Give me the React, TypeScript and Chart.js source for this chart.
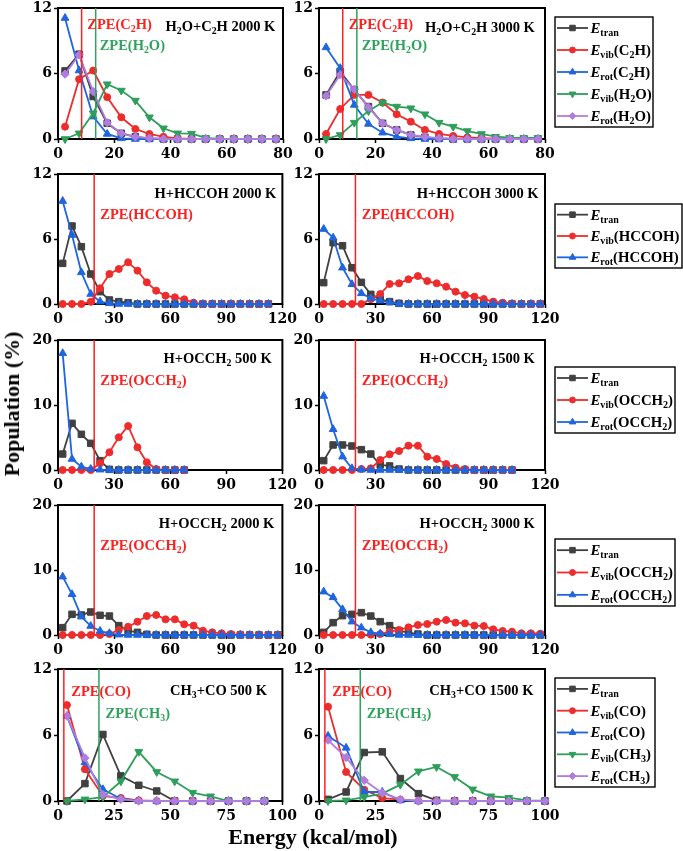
import React, { useEffect, useRef } from 'react';
import { Chart, registerables } from 'chart.js';
import { drawPoint } from 'chart.js/helpers';

Chart.register(...registerables);

// ---------------- energy bins (kcal/mol) ----------------
const E5_80 = [2.5, 7.5, 12.5, 17.5, 22.5, 27.5, 32.5, 37.5, 42.5, 47.5, 52.5, 57.5, 62.5, 67.5, 72.5, 77.5];
const E5_67 = [2.5, 7.5, 12.5, 17.5, 22.5, 27.5, 32.5, 37.5, 42.5, 47.5, 52.5, 57.5, 62.5, 67.5];
const E5_102 = [2.5, 7.5, 12.5, 17.5, 22.5, 27.5, 32.5, 37.5, 42.5, 47.5, 52.5, 57.5, 62.5, 67.5, 72.5, 77.5, 82.5, 87.5, 92.5, 97.5, 102.5];
const E5_112 = [2.5, 7.5, 12.5, 17.5, 22.5, 27.5, 32.5, 37.5, 42.5, 47.5, 52.5, 57.5, 62.5, 67.5, 72.5, 77.5, 82.5, 87.5, 92.5, 97.5, 102.5, 107.5, 112.5];
const E5_117 = [2.5, 7.5, 12.5, 17.5, 22.5, 27.5, 32.5, 37.5, 42.5, 47.5, 52.5, 57.5, 62.5, 67.5, 72.5, 77.5, 82.5, 87.5, 92.5, 97.5, 102.5, 107.5, 112.5, 117.5];
const E8_92 = [4, 12, 20, 28, 36, 44, 52, 60, 68, 76, 84, 92];
const E8_100 = [4, 12, 20, 28, 36, 44, 52, 60, 68, 76, 84, 92, 100];

// ---------------- tick labels ----------------
const X_TICKS_80 = [0, 20, 40, 60, 80];
const X_TICKS_120 = [0, 30, 60, 90, 120];
const X_TICKS_100 = [0, 25, 50, 75, 100];
const Y_TICKS_12 = [0, 6, 12];
const Y_TICKS_20 = [0, 10, 20];

// ---------------- H2O + C2H ----------------
const C2H_2000_tran = [6.24, 7.77, 3.89, 1.44, 0.52, 0.2, 0.05, 0, 0, 0, 0, 0, 0, 0, 0, 0];
const C2H_2000_vibC2H = [1.13, 5.48, 6.27, 3.83, 1.99, 0.92, 0.46, 0.2, 0.05, 0, 0, 0, 0, 0, 0, 0];
const C2H_2000_rotC2H = [11.08, 6.27, 2.05, 0.46, 0.06, 0, 0, 0, 0, 0, 0, 0, 0, 0, 0, 0];
const C2H_2000_vibH2O = [0, 0.52, 2.36, 5.02, 4.44, 3.52, 1.99, 0.98, 0.52, 0.49, 0.1, 0, 0, 0, 0, 0];
const C2H_2000_rotH2O = [5.94, 7.71, 4.35, 1.5, 0.5, 0.2, 0.08, 0, 0, 0, 0, 0, 0, 0, 0, 0];

const C2H_3000_tran = [4.04, 6.18, 4.5, 2.97, 1.44, 0.83, 0.37, 0.15, 0.05, 0, 0, 0, 0, 0, 0, 0];
const C2H_3000_vibC2H = [0.46, 2.75, 4.04, 4.04, 3.34, 2.27, 1.59, 0.83, 0.46, 0.28, 0.15, 0.08, 0.03, 0, 0, 0];
const C2H_3000_rotC2H = [8.39, 6.49, 3.12, 1.38, 0.58, 0.21, 0.06, 0, 0, 0, 0, 0, 0, 0, 0, 0];
const C2H_3000_vibH2O = [0, 0.37, 1.5, 2.57, 3.34, 2.97, 2.82, 2.27, 1.5, 1.13, 0.73, 0.46, 0.21, 0.12, 0.09, 0.09];
const C2H_3000_rotH2O = [3.95, 5.88, 4.56, 2.9, 1.44, 0.83, 0.37, 0.2, 0.08, 0, 0, 0, 0, 0, 0, 0];

// ---------------- H + HCCOH ----------------
const HCCOH_2000_tran = [3.75, 7.2, 5.29, 2.77, 1.14, 0.37, 0.22, 0.12, 0, 0, 0, 0, 0, 0, 0, 0, 0, 0, 0, 0, 0, 0, 0];
const HCCOH_2000_vib = [0, 0, 0, 0.2, 1.45, 2.77, 3.23, 3.85, 3.08, 2.0, 1.23, 0.77, 0.62, 0.43, 0.12, 0, 0, 0, 0, 0, 0, 0, 0];
const HCCOH_2000_rot = [9.5, 6.37, 2.92, 0.92, 0.22, 0.06, 0, 0, 0, 0, 0, 0, 0, 0, 0, 0, 0, 0, 0, 0, 0, 0, 0];

const HCCOH_3000_tran = [1.97, 5.66, 5.38, 3.35, 2.0, 0.89, 0.43, 0.22, 0.06, 0, 0, 0, 0, 0, 0, 0, 0, 0, 0, 0, 0, 0, 0, 0];
const HCCOH_3000_vib = [0, 0, 0, 0, 0, 0.45, 0.92, 1.85, 1.91, 2.28, 2.58, 2.12, 1.91, 1.6, 1.14, 0.83, 0.68, 0.46, 0.22, 0.12, 0.05, 0, 0, 0];
const HCCOH_3000_rot = [6.92, 6.12, 3.35, 1.82, 0.98, 0.52, 0.31, 0.15, 0, 0, 0, 0, 0, 0, 0, 0, 0, 0, 0, 0, 0, 0, 0, 0];

// ---------------- H + OCCH2 ----------------
const OCCH2_500_tran = [2.46, 7.18, 5.49, 4.1, 1.44, 0.1, 0, 0, 0, 0, 0, 0, 0, 0];
const OCCH2_500_vib = [0, 0, 0, 0, 1.03, 2.72, 5.03, 6.77, 3.49, 1.18, 0.15, 0, 0, 0];
const OCCH2_500_rot = [17.95, 1.69, 0.51, 0.15, 0.05, 0, 0, 0, 0, 0, 0, 0, 0, 0];

const OCCH2_1500_tran = [1.44, 3.85, 3.85, 3.69, 3.13, 2.46, 0.77, 0.62, 0.15, 0, 0, 0, 0, 0, 0, 0, 0, 0, 0, 0, 0];
const OCCH2_1500_vib = [0, 0, 0, 0, 0.15, 0.26, 1.54, 2.41, 2.92, 3.74, 3.74, 2.05, 1.69, 0.92, 0.36, 0.15, 0, 0, 0, 0, 0];
const OCCH2_1500_rot = [11.38, 6.26, 2.05, 0.26, 0.05, 0, 0, 0, 0, 0, 0, 0, 0, 0, 0, 0, 0, 0, 0, 0, 0];

const OCCH2_2000_tran = [1.13, 3.18, 3.08, 3.54, 3.03, 2.92, 1.44, 0.67, 0.41, 0.1, 0, 0, 0, 0, 0, 0, 0, 0, 0, 0, 0, 0, 0, 0];
const OCCH2_2000_vib = [0, 0, 0, 0, 0, 0.15, 0.77, 1.28, 2.05, 2.92, 3.08, 2.41, 2.41, 1.64, 1.44, 0.67, 0.41, 0.26, 0.15, 0.1, 0, 0, 0, 0];
const OCCH2_2000_rot = [8.97, 6.26, 2.82, 1.38, 0.62, 0.26, 0.05, 0, 0, 0, 0, 0, 0, 0, 0, 0, 0, 0, 0, 0, 0, 0, 0, 0];

const OCCH2_3000_tran = [0.41, 1.9, 2.97, 3.18, 3.44, 2.92, 2.05, 1.44, 0.67, 0.36, 0.15, 0, 0, 0, 0, 0, 0, 0, 0, 0, 0, 0, 0, 0];
const OCCH2_3000_vib = [0, 0, 0, 0, 0, 0.05, 0.15, 0.51, 0.77, 1.18, 1.54, 1.69, 2.05, 2.31, 1.9, 1.79, 1.44, 1.38, 0.87, 0.62, 0.51, 0.26, 0.26, 0.2];
const OCCH2_3000_rot = [6.67, 5.79, 3.95, 2.05, 1.13, 0.41, 0.2, 0.1, 0, 0, 0, 0, 0, 0, 0, 0, 0, 0, 0, 0, 0, 0, 0, 0];

// ---------------- CH3 + CO ----------------
const CO_500_tran = [0, 1.58, 6.05, 2.28, 1.43, 0.91, 0, 0, 0, 0, 0, 0];
const CO_500_vibCO = [8.72, 2.89, 0.46, 0.27, 0.06, 0, 0, 0, 0, 0, 0, 0];
const CO_500_rotCO = [7.72, 3.5, 1.06, 0.21, 0, 0, 0, 0, 0, 0, 0, 0];
const CO_500_vibCH3 = [0, 0.15, 0.36, 1.79, 4.47, 2.64, 1.79, 0.76, 0.43, 0, 0, 0];
const CO_500_rotCH3 = [7.72, 3.92, 0.58, 0.15, 0, 0, 0, 0, 0, 0, 0, 0];

const CO_1500_tran = [0.15, 0.82, 4.41, 4.47, 2.04, 0.67, 0.06, 0, 0, 0, 0, 0, 0];
const CO_1500_vibCO = [8.57, 2.64, 1.03, 0.27, 0.12, 0, 0, 0, 0, 0, 0, 0, 0];
const CO_1500_rotCO = [5.92, 4.83, 0.82, 0.82, 0.05, 0, 0, 0, 0, 0, 0, 0, 0];
const CO_1500_vibCH3 = [0, 0.06, 0.36, 0.67, 1.49, 2.7, 3.1, 2.19, 1.06, 0.43, 0.3, 0.06, 0.03];
const CO_1500_rotCH3 = [5.53, 3.95, 1.88, 0.73, 0.15, 0, 0, 0, 0, 0, 0, 0, 0];

// ---------------- zero-point energies (kcal/mol) ----------------
const ZPE_C2H = 8.4;
const ZPE_H2O = 13.4;
const ZPE_HCCOH = 19.35;
const ZPE_OCCH2 = 19.35;
const ZPE_CO = 2.6;
const ZPE_CH3 = 18.25;

// ---------------- styles ----------------
const STYLE: Record<string, { color: string; point: string; rot: number; r: number }> = {
  tran: { color: '#404040', point: 'rect', rot: 0, r: 4.6 },
  vib: { color: '#ee2c2c', point: 'circle', rot: 0, r: 3.5 },
  rot: { color: '#1f65df', point: 'triangle', rot: 0, r: 4.5 },
  vib2: { color: '#2e9e5b', point: 'triangle', rot: 180, r: 4.5 },
  rot2: { color: '#b07ddf', point: 'rectRot', rot: 0, r: 4.2 },
};
const ZRED = '#ff1f1f';
const ZGREEN = '#2ea35c';

const GEOM = [
  { canvasLeft: 0, width: 300, YW: 58, R: 283 },
  { canvasLeft: 290, width: 393, YW: 29, R: 545 },
];
const ROWS = [
  { T: 8, B: 139 },
  { T: 174, B: 304 },
  { T: 340, B: 470 },
  { T: 505, B: 635 },
  { T: 669, B: 801 },
];
const PAD_TOP = 12;
const XH = 24;
const PAD_BOTTOM = 4;

interface Series { key: string; label: string; data: number[] }
interface PanelCfg {
  col: number; row: number;
  xs: number[]; xTicks: number[]; yTicks: number[];
  series: Series[];
  zpe: { x: number; color: string }[];
  notes: { text: string; x: number; y: number; color: string }[];
  legend?: { top: number; bottom: number; right: number };
}

const L_TRAN = '*E*_{tran}';

const PANELS: PanelCfg[] = [
  {
    col: 0, row: 0, xs: E5_80, xTicks: X_TICKS_80, yTicks: Y_TICKS_12,
    series: [
      { key: 'tran', label: L_TRAN, data: C2H_2000_tran },
      { key: 'vib', label: '*E*_{vib}(C_2H)', data: C2H_2000_vibC2H },
      { key: 'rot', label: '*E*_{rot}(C_2H)', data: C2H_2000_rotC2H },
      { key: 'vib2', label: '*E*_{vib}(H_2O)', data: C2H_2000_vibH2O },
      { key: 'rot2', label: '*E*_{rot}(H_2O)', data: C2H_2000_rotH2O },
    ],
    zpe: [{ x: ZPE_C2H, color: ZRED }, { x: ZPE_H2O, color: ZGREEN }],
    notes: [
      { text: 'ZPE(C_2H)', x: 10.4, y: 10.5, color: ZRED },
      { text: 'H_2O+C_2H 2000 K', x: 38.2, y: 10.3, color: '#000' },
      { text: 'ZPE(H_2O)', x: 14.8, y: 8.6, color: ZGREEN },
    ],
  },
  {
    col: 1, row: 0, xs: E5_80, xTicks: X_TICKS_80, yTicks: Y_TICKS_12,
    series: [
      { key: 'tran', label: L_TRAN, data: C2H_3000_tran },
      { key: 'vib', label: '*E*_{vib}(C_2H)', data: C2H_3000_vibC2H },
      { key: 'rot', label: '*E*_{rot}(C_2H)', data: C2H_3000_rotC2H },
      { key: 'vib2', label: '*E*_{vib}(H_2O)', data: C2H_3000_vibH2O },
      { key: 'rot2', label: '*E*_{rot}(H_2O)', data: C2H_3000_rotH2O },
    ],
    zpe: [{ x: ZPE_C2H, color: ZRED }, { x: ZPE_H2O, color: ZGREEN }],
    notes: [
      { text: 'ZPE(C_2H)', x: 10.5, y: 10.5, color: ZRED },
      { text: 'H_2O+C_2H 3000 K', x: 37.5, y: 10.2, color: '#000' },
      { text: 'ZPE(H_2O)', x: 15.1, y: 8.6, color: ZGREEN },
    ],
    legend: { top: 17, bottom: 127, right: 653 },
  },
  {
    col: 0, row: 1, xs: E5_112, xTicks: X_TICKS_120, yTicks: Y_TICKS_12,
    series: [
      { key: 'tran', label: L_TRAN, data: HCCOH_2000_tran },
      { key: 'vib', label: '*E*_{vib}(HCCOH)', data: HCCOH_2000_vib },
      { key: 'rot', label: '*E*_{rot}(HCCOH)', data: HCCOH_2000_rot },
    ],
    zpe: [{ x: ZPE_HCCOH, color: ZRED }],
    notes: [
      { text: 'H+HCCOH 2000 K', x: 51.6, y: 10.2, color: '#000' },
      { text: 'ZPE(HCCOH)', x: 22.6, y: 8.3, color: ZRED },
    ],
  },
  {
    col: 1, row: 1, xs: E5_117, xTicks: X_TICKS_120, yTicks: Y_TICKS_12,
    series: [
      { key: 'tran', label: L_TRAN, data: HCCOH_3000_tran },
      { key: 'vib', label: '*E*_{vib}(HCCOH)', data: HCCOH_3000_vib },
      { key: 'rot', label: '*E*_{rot}(HCCOH)', data: HCCOH_3000_rot },
    ],
    zpe: [{ x: ZPE_HCCOH, color: ZRED }],
    notes: [
      { text: 'H+HCCOH 3000 K', x: 51.9, y: 10.2, color: '#000' },
      { text: 'ZPE(HCCOH)', x: 22.7, y: 8.3, color: ZRED },
    ],
    legend: { top: 204, bottom: 268, right: 682 },
  },
  {
    col: 0, row: 2, xs: E5_67, xTicks: X_TICKS_120, yTicks: Y_TICKS_20,
    series: [
      { key: 'tran', label: L_TRAN, data: OCCH2_500_tran },
      { key: 'vib', label: '*E*_{vib}(OCCH_2)', data: OCCH2_500_vib },
      { key: 'rot', label: '*E*_{rot}(OCCH_2)', data: OCCH2_500_rot },
    ],
    zpe: [{ x: ZPE_OCCH2, color: ZRED }],
    notes: [
      { text: 'H+OCCH_2 500 K', x: 56.4, y: 17.2, color: '#000' },
      { text: 'ZPE(OCCH_2)', x: 22.6, y: 13.85, color: ZRED },
    ],
  },
  {
    col: 1, row: 2, xs: E5_102, xTicks: X_TICKS_120, yTicks: Y_TICKS_20,
    series: [
      { key: 'tran', label: L_TRAN, data: OCCH2_1500_tran },
      { key: 'vib', label: '*E*_{vib}(OCCH_2)', data: OCCH2_1500_vib },
      { key: 'rot', label: '*E*_{rot}(OCCH_2)', data: OCCH2_1500_rot },
    ],
    zpe: [{ x: ZPE_OCCH2, color: ZRED }],
    notes: [
      { text: 'H+OCCH_2 1500 K', x: 53.3, y: 17.2, color: '#000' },
      { text: 'ZPE(OCCH_2)', x: 22.7, y: 13.85, color: ZRED },
    ],
    legend: { top: 367, bottom: 433, right: 675 },
  },
  {
    col: 0, row: 3, xs: E5_117, xTicks: X_TICKS_120, yTicks: Y_TICKS_20,
    series: [
      { key: 'tran', label: L_TRAN, data: OCCH2_2000_tran },
      { key: 'vib', label: '*E*_{vib}(OCCH_2)', data: OCCH2_2000_vib },
      { key: 'rot', label: '*E*_{rot}(OCCH_2)', data: OCCH2_2000_rot },
    ],
    zpe: [{ x: ZPE_OCCH2, color: ZRED }],
    notes: [
      { text: 'H+OCCH_2 2000 K', x: 53.9, y: 17.2, color: '#000' },
      { text: 'ZPE(OCCH_2)', x: 22.6, y: 13.85, color: ZRED },
    ],
  },
  {
    col: 1, row: 3, xs: E5_117, xTicks: X_TICKS_120, yTicks: Y_TICKS_20,
    series: [
      { key: 'tran', label: L_TRAN, data: OCCH2_3000_tran },
      { key: 'vib', label: '*E*_{vib}(OCCH_2)', data: OCCH2_3000_vib },
      { key: 'rot', label: '*E*_{rot}(OCCH_2)', data: OCCH2_3000_rot },
    ],
    zpe: [{ x: ZPE_OCCH2, color: ZRED }],
    notes: [
      { text: 'H+OCCH_2 3000 K', x: 53.3, y: 17.2, color: '#000' },
      { text: 'ZPE(OCCH_2)', x: 22.7, y: 13.85, color: ZRED },
    ],
    legend: { top: 539, bottom: 606, right: 675 },
  },
  {
    col: 0, row: 4, xs: E8_92, xTicks: X_TICKS_100, yTicks: Y_TICKS_12,
    series: [
      { key: 'tran', label: L_TRAN, data: CO_500_tran },
      { key: 'vib', label: '*E*_{vib}(CO)', data: CO_500_vibCO },
      { key: 'rot', label: '*E*_{rot}(CO)', data: CO_500_rotCO },
      { key: 'vib2', label: '*E*_{vib}(CH_3)', data: CO_500_vibCH3 },
      { key: 'rot2', label: '*E*_{rot}(CH_3)', data: CO_500_rotCH3 },
    ],
    zpe: [{ x: ZPE_CO, color: ZRED }, { x: ZPE_CH3, color: ZGREEN }],
    notes: [
      { text: 'ZPE(CO)', x: 5.9, y: 10.0, color: ZRED },
      { text: 'CH_3+CO 500 K', x: 49.9, y: 10.1, color: '#000' },
      { text: 'ZPE(CH_3)', x: 21.2, y: 8.0, color: ZGREEN },
    ],
  },
  {
    col: 1, row: 4, xs: E8_100, xTicks: X_TICKS_100, yTicks: Y_TICKS_12,
    series: [
      { key: 'tran', label: L_TRAN, data: CO_1500_tran },
      { key: 'vib', label: '*E*_{vib}(CO)', data: CO_1500_vibCO },
      { key: 'rot', label: '*E*_{rot}(CO)', data: CO_1500_rotCO },
      { key: 'vib2', label: '*E*_{vib}(CH_3)', data: CO_1500_vibCH3 },
      { key: 'rot2', label: '*E*_{rot}(CH_3)', data: CO_1500_rotCH3 },
    ],
    zpe: [{ x: ZPE_CO, color: ZRED }, { x: ZPE_CH3, color: ZGREEN }],
    notes: [
      { text: 'ZPE(CO)', x: 5.9, y: 10.0, color: ZRED },
      { text: 'CH_3+CO 1500 K', x: 48.8, y: 10.1, color: '#000' },
      { text: 'ZPE(CH_3)', x: 21.1, y: 8.0, color: ZGREEN },
    ],
    legend: { top: 678, bottom: 787, right: 655 },
  },
];

// ---------------- rich text helpers ----------------
type Seg = { t: string; sub: boolean; it: boolean };
function parseRich(s: string): Seg[] {
  const out: Seg[] = [];
  let cur = '';
  let it = false;
  let i = 0;
  const flush = () => { if (cur) { out.push({ t: cur, sub: false, it }); cur = ''; } };
  while (i < s.length) {
    const c = s[i];
    if (c === '*') { flush(); it = !it; i++; }
    else if (c === '_') {
      flush();
      if (s[i + 1] === '{') {
        const j = s.indexOf('}', i);
        out.push({ t: s.slice(i + 2, j), sub: true, it });
        i = j + 1;
      } else {
        out.push({ t: s[i + 1], sub: true, it });
        i += 2;
      }
    } else { cur += c; i++; }
  }
  flush();
  return out;
}
const SERIF = '"Liberation Serif", "Times New Roman", serif';
function drawRich(ctx: CanvasRenderingContext2D, s: string, x: number, yMid: number, size: number, color: string, subScale = 0.68) {
  const base = yMid + size * 0.33;
  ctx.save();
  ctx.fillStyle = color;
  ctx.textBaseline = 'alphabetic';
  ctx.textAlign = 'left';
  let cx = x;
  for (const g of parseRich(s)) {
    const fs = g.sub ? size * subScale : size;
    ctx.font = `${g.it ? 'italic ' : ''}bold ${fs}px ${SERIF}`;
    ctx.fillText(g.t, cx, g.sub ? base + size * 0.2 : base);
    cx += ctx.measureText(g.t).width;
  }
  ctx.restore();
}

const TICK_FONT: any = { family: '"DejaVu Serif", serif', size: 14, weight: 'bold' };

function makeConfig(p: PanelCfg): any {
  const g = GEOM[p.col];
  const row = ROWS[p.row];
  const xmax = p.xTicks[p.xTicks.length - 1];
  const ymax = p.yTicks[p.yTicks.length - 1];
  const ox = g.canvasLeft;
  const oy = row.T - PAD_TOP;

  const datasets: any[] = p.series.map((s, i) => {
    const st = STYLE[s.key];
    return {
      label: s.label,
      data: p.xs.map((x, j) => ({ x, y: s.data[j] })),
      borderColor: st.color,
      backgroundColor: st.color,
      pointBackgroundColor: st.color,
      pointBorderColor: st.color,
      borderWidth: 1.8,
      pointStyle: st.point,
      pointRadius: st.r,
      pointRotation: st.rot,
      pointBorderWidth: 1,
      tension: 0,
      clip: false,
      order: 20 - i,
    };
  });
  p.zpe.forEach((z) => {
    datasets.push({
      label: 'ZPE',
      data: [{ x: z.x, y: 0 }, { x: z.x, y: ymax }],
      borderColor: z.color,
      borderWidth: 1.5,
      pointRadius: 0,
      clip: false,
      order: 0,
    });
  });

  const deco = {
    id: 'deco',
    beforeDatasetsDraw(chart: any) {
      const { ctx, chartArea: a } = chart;
      ctx.save();
      ctx.strokeStyle = '#000';
      ctx.lineWidth = 2;
      ctx.strokeRect(a.left, a.top, a.right - a.left, a.bottom - a.top);
      ctx.restore();
    },
    afterDraw(chart: any) {
      const ctx: CanvasRenderingContext2D = chart.ctx;
      const xs = chart.scales.x;
      const ys = chart.scales.y;
      p.notes.forEach((n) => {
        drawRich(ctx, n.text, xs.getPixelForValue(n.x), ys.getPixelForValue(n.y), 14.5, n.color, 0.68);
      });
      if (p.legend) {
        const L = p.legend;
        const bx = 555 - ox;
        const by = L.top - oy;
        const bw = L.right - 555;
        const bh = L.bottom - L.top;
        ctx.save();
        ctx.strokeStyle = '#000';
        ctx.lineWidth = 1.4;
        ctx.strokeRect(bx, by, bw, bh);
        const n = p.series.length;
        p.series.forEach((s, i) => {
          const st = STYLE[s.key];
          const cy = by + (bh * (i + 0.5)) / n;
          ctx.strokeStyle = st.color;
          ctx.lineWidth = 1.8;
          ctx.beginPath();
          ctx.moveTo(557 - ox, cy);
          ctx.lineTo(588 - ox, cy);
          ctx.stroke();
          ctx.fillStyle = st.color;
          ctx.lineWidth = 1;
          drawPoint(ctx, { pointStyle: st.point as any, radius: st.r * 0.85, rotation: st.rot, borderWidth: 1 } as any, 572.5 - ox, cy);
          drawRich(ctx, s.label, 590.5 - ox, cy, 14.8, '#000', 0.68);
        });
        ctx.restore();
      }
    },
  };

  return {
    type: 'line',
    data: { datasets },
    plugins: [deco],
    options: {
      responsive: false,
      animation: false,
      devicePixelRatio: 1,
      events: [],
      layout: { padding: { left: 0, top: PAD_TOP, bottom: PAD_BOTTOM, right: g.canvasLeft + g.width - g.R } },
      plugins: { legend: { display: false }, tooltip: { enabled: false } },
      scales: {
        x: {
          type: 'linear',
          min: 0,
          max: xmax,
          afterBuildTicks: (s: any) => { s.ticks = p.xTicks.map((v) => ({ value: v })); },
          afterFit: (s: any) => { s.height = XH; },
          ticks: { font: TICK_FONT, color: '#000', padding: 3, maxRotation: 0, autoSkip: false },
          grid: { drawOnChartArea: false, drawTicks: true, tickLength: 4, tickWidth: 1.5, tickColor: '#000' },
          border: { display: false },
        },
        y: {
          type: 'linear',
          min: 0,
          max: ymax,
          afterBuildTicks: (s: any) => { s.ticks = p.yTicks.map((v) => ({ value: v })); },
          afterFit: (s: any) => { s.width = g.YW; },
          ticks: { font: TICK_FONT, color: '#000', padding: 2, autoSkip: false },
          grid: { drawOnChartArea: false, drawTicks: true, tickLength: 4, tickWidth: 1.5, tickColor: '#000' },
          border: { display: false },
        },
      },
    },
  };
}

function Panel({ p }: { p: PanelCfg }) {
  const ref = useRef<HTMLCanvasElement>(null);
  const g = GEOM[p.col];
  const row = ROWS[p.row];
  const top = row.T - PAD_TOP;
  const height = row.B - row.T + PAD_TOP + XH + PAD_BOTTOM;
  useEffect(() => {
    const chart = new Chart(ref.current as HTMLCanvasElement, makeConfig(p));
    return () => chart.destroy();
  }, []);
  return (
    <canvas
      ref={ref}
      width={g.width}
      height={height}
      style={{ position: 'absolute', left: g.canvasLeft, top, width: g.width, height }}
    />
  );
}

export default function App() {
  return (
    <div style={{ position: 'absolute', left: 0, top: 0, width: 683, height: 851, background: '#fff', overflow: 'hidden' }}>
      {PANELS.map((p, i) => (
        <Panel key={i} p={p} />
      ))}
      <div
        style={{
          position: 'absolute', left: 12, top: 404, transform: 'translate(-50%, -50%) rotate(-90deg)',
          font: `bold 22px ${SERIF}`, lineHeight: '22px', whiteSpace: 'nowrap', color: '#000',
        }}
      >
        Population (%)
      </div>
      <div
        style={{
          position: 'absolute', left: 313, top: 837, transform: 'translate(-50%, -50%)',
          font: `bold 22px ${SERIF}`, lineHeight: '22px', whiteSpace: 'nowrap', color: '#000',
        }}
      >
        Energy (kcal/mol)
      </div>
    </div>
  );
}
